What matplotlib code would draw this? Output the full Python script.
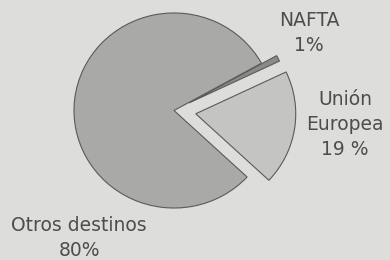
import matplotlib
matplotlib.use("Agg")
import matplotlib.pyplot as plt

categories = ["Unión\nEuropea", "NAFTA", "Otros destinos"]
values = [19, 1, 80]
pct_labels = ["19 %", "1%", "80%"]

colors = ["#c4c4c2", "#8a8a88", "#a9a9a7"]
explode = [0.22, 0.17, 0.0]

plt.rcParams['font.family'] = ['DejaVu Sans']

fig = plt.figure(figsize=(3.9, 2.6), dpi=100, facecolor="#dddddb")
ax = fig.add_axes([0, 0, 1, 1])
ax.set_facecolor("#dddddb")

wedges, _ = ax.pie(values, colors=colors, explode=explode, startangle=-43,
                   counterclock=True, radius=1.0,
                   wedgeprops=dict(edgecolor="#5a5a58", linewidth=0.8))

ax.set_aspect("auto")
ax.set_xlim(-1.74, 2.16)
ax.set_ylim(-1.533, 1.133)
ax.axis("off")

txt_color = "#4d4d4b"
label_pos = [(1.71, -0.144), (1.35, 0.795), (-0.95, -1.308)]
for cat, pct, (x, y) in zip(categories, pct_labels, label_pos):
    ax.text(x, y, f"{cat}\n{pct}", ha="center", va="center", fontsize=13.5,
            color=txt_color, linespacing=1.38)

fig.savefig("out.png", dpi=100, facecolor=fig.get_facecolor())
